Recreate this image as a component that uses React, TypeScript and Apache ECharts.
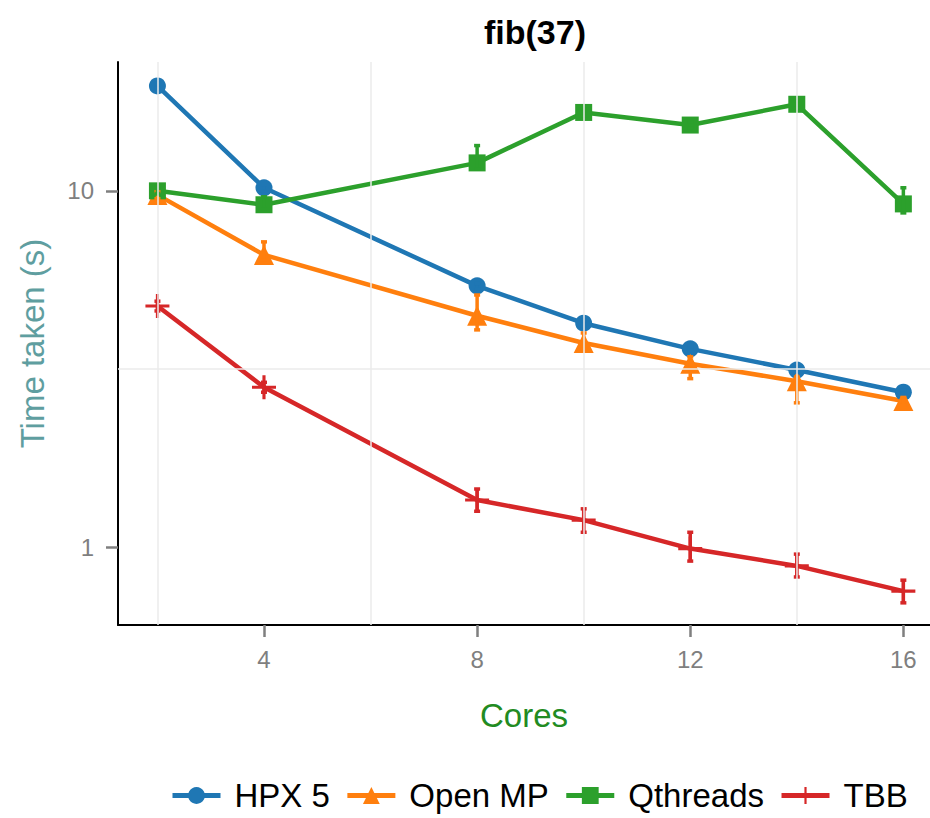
import React, { useEffect, useRef } from "react";
import * as echarts from "echarts";

// Cores on the x axis
const cores = [2, 4, 8, 10, 12, 14, 16];

// Mean time taken (s) per runtime
const hpx5 = [19.7, 10.2, 5.41, 4.25, 3.6, 3.14, 2.72];
const openMP = [9.74, 6.61, 4.46, 3.74, 3.27, 2.92, 2.57];
const qthreads = [10.0, 9.14, 11.98, 16.6, 15.3, 17.5, 9.19];
const tbb = [4.75, 2.81, 1.355, 1.19, 0.99, 0.885, 0.752];

// Error bar ranges (low / high)
const hpx5Low = [19.4, 10.0, 5.3, 4.18, 3.55, 3.1, 2.68];
const hpx5High = [20.0, 10.4, 5.5, 4.32, 3.65, 3.19, 2.76];
const openMPLow = [9.5, 6.4, 4.07, 3.6, 2.97, 2.54, 2.5];
const openMPHigh = [9.95, 7.19, 5.1, 3.99, 3.42, 3.0, 2.63];
const qthreadsLow = [9.8, 8.9, 11.5, 16.2, 15.0, 17.1, 8.67];
const qthreadsHigh = [10.2, 9.62, 13.4, 17.0, 15.6, 17.9, 10.2];
const tbbLow = [4.6, 2.72, 1.26, 1.1, 0.913, 0.824, 0.697];
const tbbHigh = [4.9, 2.9, 1.455, 1.28, 1.1, 0.955, 0.807];

// Axis ticks and minor grid positions
const xTicks = [4, 8, 12, 16];
const yTicks = [1, 10];
const xMinorGrid = [2, 6, 10, 14];
const yMinorGrid = [3.1623];

const seriesNames = ["HPX 5", "Open MP", "Qthreads", "TBB"];
const colors = ["#1f77b4", "#ff7f0e", "#2ca02c", "#d62728"];
const symbols = [
  "circle",
  "triangle",
  "rect",
  "path://M-0.13,-1H0.13V-0.13H1V0.13H0.13V1H-0.13V0.13H-1V-0.13H-0.13Z",
];
const symbolSizes = [17, 20, 17, 24];

const FONT = "'Liberation Sans', Arial, Helvetica, sans-serif";

export default function App() {
  const ref = useRef<HTMLDivElement>(null);

  useEffect(() => {
    if (!ref.current) return;
    const chart = echarts.init(ref.current, null, { renderer: "svg" });

    const means = [hpx5, openMP, qthreads, tbb];
    const lows = [hpx5Low, openMPLow, qthreadsLow, tbbLow];
    const highs = [hpx5High, openMPHigh, qthreadsHigh, tbbHigh];

    const lineSeries = seriesNames.map((name, i) => ({
      name,
      type: "line",
      data: cores.map((c, j) => [c, means[i][j]]),
      symbol: symbols[i],
      symbolSize: symbolSizes[i],
      showAllSymbol: true,
      lineStyle: { width: 4.5, color: colors[i] },
      itemStyle: { color: colors[i] },
      z: 3,
    }));

    const errorSeries = seriesNames.map((name, i) => ({
      name: name + " error",
      type: "custom",
      data: cores.map((c, j) => [c, lows[i][j], highs[i][j]]),
      z: 4,
      renderItem: (params: any, api: any) => {
        const x = api.value(0);
        const lo = api.coord([x, api.value(1)]);
        const hi = api.coord([x, api.value(2)]);
        const cap = 3;
        const style = { stroke: colors[i], lineWidth: 3.5 };
        return {
          type: "group",
          children: [
            { type: "line", shape: { x1: lo[0], y1: lo[1], x2: hi[0], y2: hi[1] }, style },
            { type: "line", shape: { x1: lo[0] - cap, y1: lo[1], x2: lo[0] + cap, y2: lo[1] }, style },
            { type: "line", shape: { x1: hi[0] - cap, y1: hi[1], x2: hi[0] + cap, y2: hi[1] }, style },
          ],
        };
      },
    }));

    const gridSeries = {
      name: "grid",
      type: "line",
      data: [],
      z: 1,
      markLine: {
        silent: true,
        symbol: "none",
        label: { show: false },
        lineStyle: { color: "#ebebeb", width: 1.5, type: "solid" },
        data: [
          ...xMinorGrid.map((v) => ({ xAxis: v })),
          ...yMinorGrid.map((v) => ({ yAxis: v })),
        ],
      },
    };

    chart.setOption({
      animation: false,
      backgroundColor: "#ffffff",
      textStyle: { fontFamily: FONT },
      title: {
        text: "fib(37)",
        left: 530,
        top: 10,
        textAlign: "center",
        textStyle: { fontFamily: FONT, fontWeight: "bold", fontSize: 34, color: "#000" },
      },
      legend: {
        data: seriesNames,
        top: 774,
        left: 165,
        itemWidth: 48,
        itemHeight: 21,
        itemGap: 15,
        lineStyle: { width: 5 },
        textStyle: {
          fontFamily: FONT,
          fontSize: 33,
          color: "#000",
          padding: [0, 0, 0, 9],
        },
      },
      grid: { left: 118, right: 0, top: 62, bottom: 193, containLabel: false },
      xAxis: {
        type: "value",
        min: 1.26,
        max: 16.5,
        name: "Cores",
        nameLocation: "middle",
        nameGap: 74,
        nameTextStyle: { fontFamily: FONT, fontSize: 33, color: "#228b22" },
        axisLine: { show: true, onZero: false, lineStyle: { color: "#000", width: 2 } },
        axisTick: { show: true, length: 12, customValues: xTicks, lineStyle: { color: "#7f7f7f", width: 2.5 } },
        axisLabel: { customValues: xTicks, margin: 22, fontSize: 24, color: "#7f7f7f", fontFamily: FONT },
        splitLine: { show: false },
      },
      yAxis: {
        type: "log",
        logBase: 10,
        min: 0.604,
        max: 23.0,
        name: "Time taken (s)",
        nameLocation: "middle",
        nameGap: 69,
        nameTextStyle: { fontFamily: FONT, fontSize: 33, color: "#5f9ea0" },
        axisLine: { show: true, onZero: false, lineStyle: { color: "#000", width: 2 } },
        axisTick: { show: true, length: 12, customValues: yTicks, lineStyle: { color: "#7f7f7f", width: 2.5 } },
        axisLabel: { customValues: yTicks, margin: 24, fontSize: 24, color: "#7f7f7f", fontFamily: FONT },
        splitLine: { show: false },
      },
      series: [gridSeries, ...lineSeries, ...errorSeries],
    });

    return () => chart.dispose();
  }, []);

  return (
    <div
      ref={ref}
      style={{ position: "absolute", left: 0, top: 0, width: 930, height: 818 }}
    />
  );
}
